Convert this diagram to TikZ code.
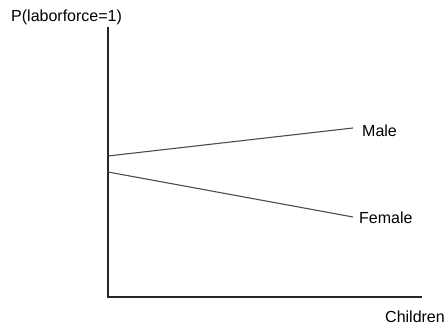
\documentclass[tikz,border=0pt]{standalone}
\usepackage{fontspec}
\setmainfont{Liberation Sans}
\begin{document}
\begin{tikzpicture}[x=1pt,y=-1pt,
  lbl/.style={font=\fontsize{16}{19}\selectfont, inner sep=0pt, anchor=west},
  axis/.style={line width=1.3pt, black!85},
  curve/.style={line width=1.1pt, black!70}]
\useasboundingbox (0,0) rectangle (448,328);
\coordinate (top) at (108,27);
\coordinate (origin) at (108,297);
\coordinate (right) at (422,297);
\coordinate (m0) at (108,156);
\coordinate (m1) at (353,128);
\coordinate (f0) at (108,172);
\coordinate (f1) at (353,217);
\node[lbl] (ylab) at (11,17) {P(laborforce=1)};
\node[lbl] (male) at (362,131) {Male};
\node[lbl] (female) at (359,218) {Female};
\node[lbl] (xlab) at (385,317) {Children};
\draw[axis] (top) -- (origin) -- (right);
\draw[curve] (m0) -- (m1);
\draw[curve] (f0) -- (f1);
\end{tikzpicture}
\end{document}
